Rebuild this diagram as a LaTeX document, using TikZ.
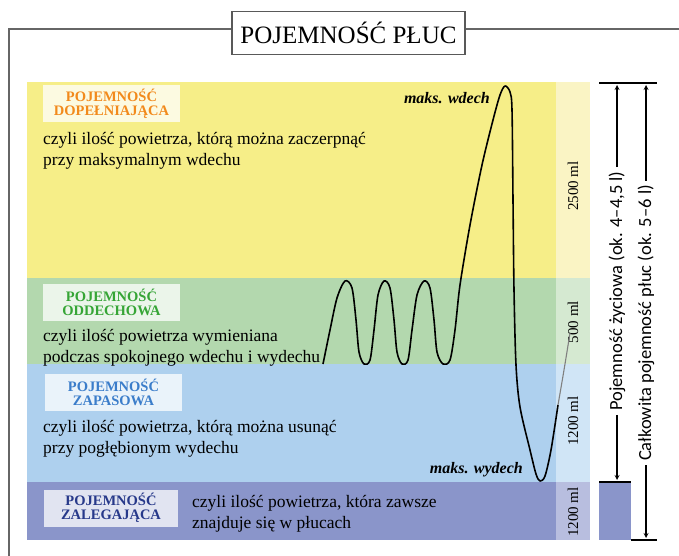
\documentclass[tikz,border=0pt]{standalone}
\usepackage{fontspec}
\setmainfont{Liberation Serif}
\newfontfamily\sidefont{Carlito}

\definecolor{bandYellow}{HTML}{F6EE88}
\definecolor{paleYellow}{HTML}{FAF4C4}
\definecolor{bandGreen}{HTML}{B3D8AE}
\definecolor{paleGreen}{HTML}{D5E9D1}
\definecolor{bandBlue}{HTML}{AED0EE}
\definecolor{paleBlue}{HTML}{D0E5F6}
\definecolor{bandPurple}{HTML}{8A95CA}
\definecolor{palePurple}{HTML}{B8BEDF}
\definecolor{tagOrange}{HTML}{F28A1C}
\definecolor{tagGreen}{HTML}{36A536}
\definecolor{tagBlue}{HTML}{3B7DCA}
\definecolor{tagNavy}{HTML}{27398A}

\begin{document}
\begin{tikzpicture}[x = 1pt, y = -1pt, > = stealth,
    tag/.style = {fill = white, fill opacity = 0.75, text opacity = 1,
        minimum width = 137pt, minimum height = 37pt, inner sep = 0pt, align = center,
        font = \fontsize{14.5}{14.5}\selectfont\bfseries},
    body/.style = {anchor = north west, inner sep = 0pt, align = left,
        font = \fontsize{17.5}{21}\selectfont},
    vol/.style = {rotate = 90, font = \fontsize{15}{15}\selectfont},
    side/.style = {rotate = 90, inner sep = 0pt, font = \sidefont\fontsize{18.5}{18.5}\selectfont},
    peak/.style = {anchor = east, inner sep = 0pt, font = \fontsize{16}{16}\selectfont\bfseries\itshape}]

    \useasboundingbox (0, 0) rectangle (679, 556);

    % outer frame and title
    \draw[color = gray!80!black, line width = 1.4pt] (9, 556) -- (9, 29) -- (679, 29);
    \node[draw = gray!70!black, fill = white, line width = 1.4pt, minimum width = 233pt,
        minimum height = 43pt, font = \fontsize{25}{25}\selectfont] (title) at (348.5, 33) {POJEMNOŚĆ PŁUC};

    % bands
    \fill[bandYellow] (27, 82) rectangle (556, 278);
    \fill[bandGreen] (27, 278) rectangle (556, 364);
    \fill[bandBlue] (27, 364) rectangle (556, 482);
    \fill[bandPurple] (27, 482) rectangle (556, 540);
    \fill[paleYellow] (556, 82) rectangle (590, 278);
    \fill[paleGreen] (556, 278) rectangle (590, 364);
    \fill[paleBlue] (556, 364) rectangle (590, 482);
    \fill[palePurple] (556, 482) rectangle (590, 540);
    \fill[bandPurple] (599, 482) rectangle (631, 540);

    % labels
    \node[tag, text = tagOrange] (dop) at (111.5, 104) {POJEMNOŚĆ\\DOPEŁNIAJĄCA};
    \node[body] (dopText) at (43, 132) {czyli ilość powietrza, którą można zaczerpnąć\\przy maksymalnym wdechu};
    \node[tag, text = tagGreen] (odd) at (111.5, 302.5) {POJEMNOŚĆ\\ODDECHOWA};
    \node[body] (oddText) at (43, 329) {czyli ilość powietrza wymieniana\\podczas spokojnego wdechu i wydechu};
    \node[tag, text = tagBlue] (zap) at (113.5, 392.5) {POJEMNOŚĆ\\ZAPASOWA};
    \node[body] (zapText) at (43, 420) {czyli ilość powietrza, którą można usunąć\\przy pogłębionym wydechu};
    \node[tag, text = tagNavy, minimum width = 134pt] (zal) at (111, 508) {POJEMNOŚĆ\\ZALEGAJĄCA};
    \node[body] (zalText) at (192, 495) {czyli ilość powietrza, która zawsze\\znajduje się w płucach};

    % volumes
    \node[vol] (v1) at (573, 186) {2500 ml};
    \node[vol] (v2) at (573, 322) {500 ml};
    \node[vol] (v3) at (573, 421) {1200 ml};
    \node[vol] (v4) at (573, 512) {1200 ml};

    % spirogram
    \draw[line width = 1.6pt, line join = round] plot[smooth, tension = 0.5] coordinates {
        (323,364) (330,330) (337,298) (345,281) (352,288) (356,320) (359,352) (364,364)
        (370,360) (374,330) (378,295) (384,281) (390,288) (394,320) (397,352) (402,364)
        (408,360) (412,330) (417,295) (424,281) (430,288) (434,320) (437,352) (443,364)
        (450,360) (455,330) (460,285) (470,225) (482,165) (493,120) (500,95) (505,86)
        (510,92) (512,110) (513,200) (514,290) (516,365) (520,407) (530,450) (536,474)
        (540,481) (545,476) (551,450) (558,405)};
    \draw[gray, line width = 1.1pt] plot[smooth, tension = 0.5] coordinates {(558,405) (564,370) (570,333)};
    \node[peak] (wdech) at (490, 98) {maks. wdech};
    \node[peak] (wydech) at (523, 470) {maks. wydech};

    % capacities
    \coordinate (topL) at (599, 83);
    \coordinate (topR) at (657, 83);
    \coordinate (midL) at (599, 482);
    \coordinate (midR) at (631, 482);
    \coordinate (botL) at (631, 540);
    \coordinate (botR) at (657, 540);
    \draw[line width = 1.6pt] (topL) -- (topR);
    \draw[line width = 1.6pt] (midL) -- (midR);
    \draw[line width = 1.6pt] (botL) -- (botR);

    \node[side] (vital) at (617, 291) {Pojemność życiowa (ok. 4–4,5 l)};
    \node[side] (total) at (646, 323) {Całkowita pojemność płuc (ok. 5–6 l)};
    \draw[->, line width = 1.2pt] (vital.east) ++(0, -4) -- (617, 85);
    \draw[->, line width = 1.2pt] (vital.west) ++(0, 4) -- (617, 480);
    \draw[->, line width = 1.2pt] (total.east) ++(0, -4) -- (646, 85);
    \draw[->, line width = 1.2pt] (total.west) ++(0, 4) -- (646, 538);

\end{tikzpicture}
\end{document}
